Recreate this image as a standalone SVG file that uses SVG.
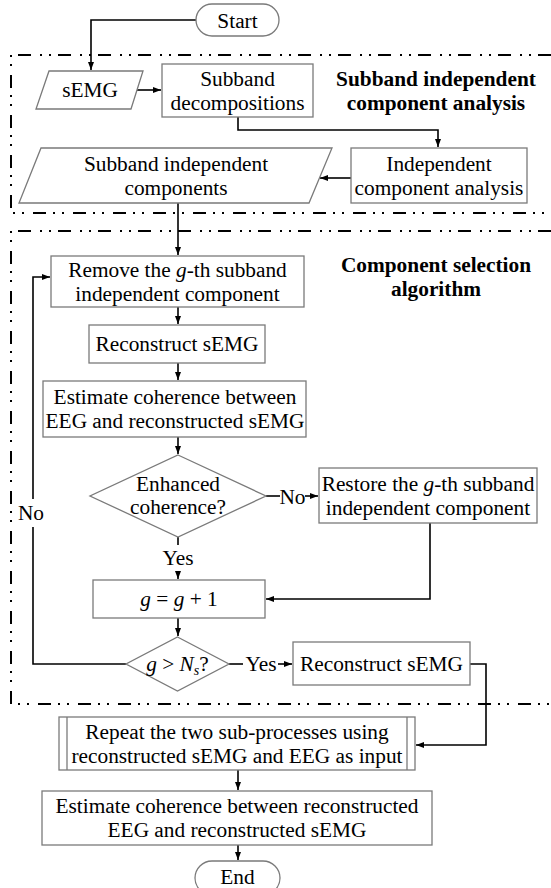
<svg xmlns="http://www.w3.org/2000/svg" width="551" height="888" viewBox="0 0 551 888">
<style>
.box{fill:#fff;stroke:#7a7a7a;stroke-width:1.3}
.t{font-family:"Liberation Serif","Times New Roman",serif;font-size:21.33px;fill:#000;text-anchor:middle}
.b{font-weight:bold}
.i{font-style:italic}
.c{fill:none;stroke:#000;stroke-width:1.6}
.sec{fill:none;stroke:#000;stroke-width:2;stroke-dasharray:13 7 2 7 2 9}
</style>
<defs>
<marker id="ah" markerUnits="userSpaceOnUse" markerWidth="8" markerHeight="8" viewBox="0 0 8 8" refX="8" refY="4" orient="auto">
<path d="M0,1 L8,4 L0,7 Z" fill="#000"/>
</marker>
</defs>

<g id="sections">
<path class="sec" d="M551,55 H11 V213 H551"/>
<path class="sec" d="M551,231 H11 V704 H551"/>
</g>

<g id="connectors">
<path class="c" d="M196,20 H91 V70" marker-end="url(#ah)"/>
<path class="c" d="M137,90 H161" marker-end="url(#ah)"/>
<path class="c" d="M238,117 V130 H438 V147" marker-end="url(#ah)"/>
<path class="c" d="M351,178 H320" marker-end="url(#ah)"/>
<path class="c" d="M178,203 V255" marker-end="url(#ah)"/>
<path class="c" d="M178,307 V324" marker-end="url(#ah)"/>
<path class="c" d="M178,363 V380" marker-end="url(#ah)"/>
<path class="c" d="M178,437 V454" marker-end="url(#ah)"/>
<path class="c" d="M266,496 H280"/>
<path class="c" d="M305,496 H318" marker-end="url(#ah)"/>
<path class="c" d="M430,523 V599 H266" marker-end="url(#ah)"/>
<path class="c" d="M178,537 V545"/>
<path class="c" d="M178,571 V579" marker-end="url(#ah)"/>
<path class="c" d="M178,618 V636" marker-end="url(#ah)"/>
<path class="c" d="M126,664 H33 V527"/>
<path class="c" d="M33,499 V277 H50" marker-end="url(#ah)"/>
<path class="c" d="M229,664 H243"/>
<path class="c" d="M278,664 H292" marker-end="url(#ah)"/>
<path class="c" d="M470,664 H486 V745 H416" marker-end="url(#ah)"/>
<path class="c" d="M238,770 V790" marker-end="url(#ah)"/>
<path class="c" d="M238,845 V860" marker-end="url(#ah)"/>
<text class="t" x="292.5" y="503.5">No</text>
<text class="t" x="178" y="565">Yes</text>
<text class="t" x="31" y="520">No</text>
<text class="t" x="261" y="671">Yes</text>
</g>

<g id="start">
<rect class="box" x="196" y="4" width="83" height="32" rx="16"/>
<text class="t" x="237.5" y="27.5">Start</text>
</g>

<g id="semg">
<path class="box" d="M49,71 H143 L131,109 H36 Z"/>
<text class="t" x="90" y="97">sEMG</text>
</g>

<g id="subband">
<rect class="box" x="162" y="64" width="151" height="53"/>
<text class="t" x="237.5" y="85.5">Subband</text>
<text class="t" x="237.5" y="109.5">decompositions</text>
</g>

<g id="title1">
<text class="t b" x="436" y="86">Subband independent</text>
<text class="t b" x="436" y="110">component analysis</text>
</g>

<g id="ica">
<rect class="box" x="351" y="148" width="176" height="55"/>
<text class="t" x="439" y="170.5">Independent</text>
<text class="t" x="439" y="194.5">component analysis</text>
</g>

<g id="sic">
<path class="box" d="M41,148 H332 L309,203 H19 Z"/>
<text class="t" x="176" y="170.5">Subband independent</text>
<text class="t" x="176" y="194.5">components</text>
</g>

<g id="title2">
<text class="t b" x="436" y="272">Component selection</text>
<text class="t b" x="436" y="296">algorithm</text>
</g>

<g id="remove">
<rect class="box" x="51" y="256" width="253" height="51"/>
<text class="t" x="177.5" y="276.5">Remove the <tspan class="i">g</tspan>-th subband</text>
<text class="t" x="177.5" y="300.5">independent component</text>
</g>

<g id="reconstruct1">
<rect class="box" x="89" y="325" width="176" height="38"/>
<text class="t" x="177" y="351">Reconstruct sEMG</text>
</g>

<g id="estimate1">
<rect class="box" x="43" y="381" width="263" height="56"/>
<text class="t" x="175" y="404">Estimate coherence between</text>
<text class="t" x="175" y="428">EEG and reconstructed sEMG</text>
</g>

<g id="enhanced">
<path class="box" d="M178,455 L266,496 L178,537 L90,496 Z"/>
<text class="t" x="178" y="491">Enhanced</text>
<text class="t" x="178" y="514">coherence?</text>
</g>

<g id="restore">
<rect class="box" x="319" y="468" width="218" height="55"/>
<text class="t" x="428" y="490.5">Restore the <tspan class="i">g</tspan>-th subband</text>
<text class="t" x="428" y="514.5">independent component</text>
</g>

<g id="increment">
<rect class="box" x="93" y="580" width="172" height="38"/>
<text class="t" x="179" y="606"><tspan class="i">g</tspan> = <tspan class="i">g</tspan> + 1</text>
</g>

<g id="compare">
<path class="box" d="M177.5,637 L229,664 L177.5,691 L126,664 Z"/>
<text class="t" x="177.5" y="671"><tspan class="i">g</tspan> &gt; <tspan class="i">N</tspan><tspan class="i" font-size="14" dy="4">s</tspan><tspan dy="-4">?</tspan></text>
</g>

<g id="reconstruct2">
<rect class="box" x="293" y="642" width="177" height="43"/>
<text class="t" x="381.5" y="670.5">Reconstruct sEMG</text>
</g>

<g id="repeat">
<rect class="box" x="59" y="717" width="356" height="53"/>
<line class="box" x1="67" y1="717" x2="67" y2="770"/>
<line class="box" x1="407" y1="717" x2="407" y2="770"/>
<text class="t" x="237" y="738.5">Repeat the two sub-processes using</text>
<text class="t" x="237" y="762.5">reconstructed sEMG and EEG as input</text>
</g>

<g id="estimate2">
<rect class="box" x="42" y="791" width="390" height="54"/>
<text class="t" x="237" y="813">Estimate coherence between reconstructed</text>
<text class="t" x="237" y="837">EEG and reconstructed sEMG</text>
</g>

<g id="end">
<rect class="box" x="195" y="861" width="85" height="34" rx="17"/>
<text class="t" x="237.5" y="884">End</text>
</g>
</svg>
